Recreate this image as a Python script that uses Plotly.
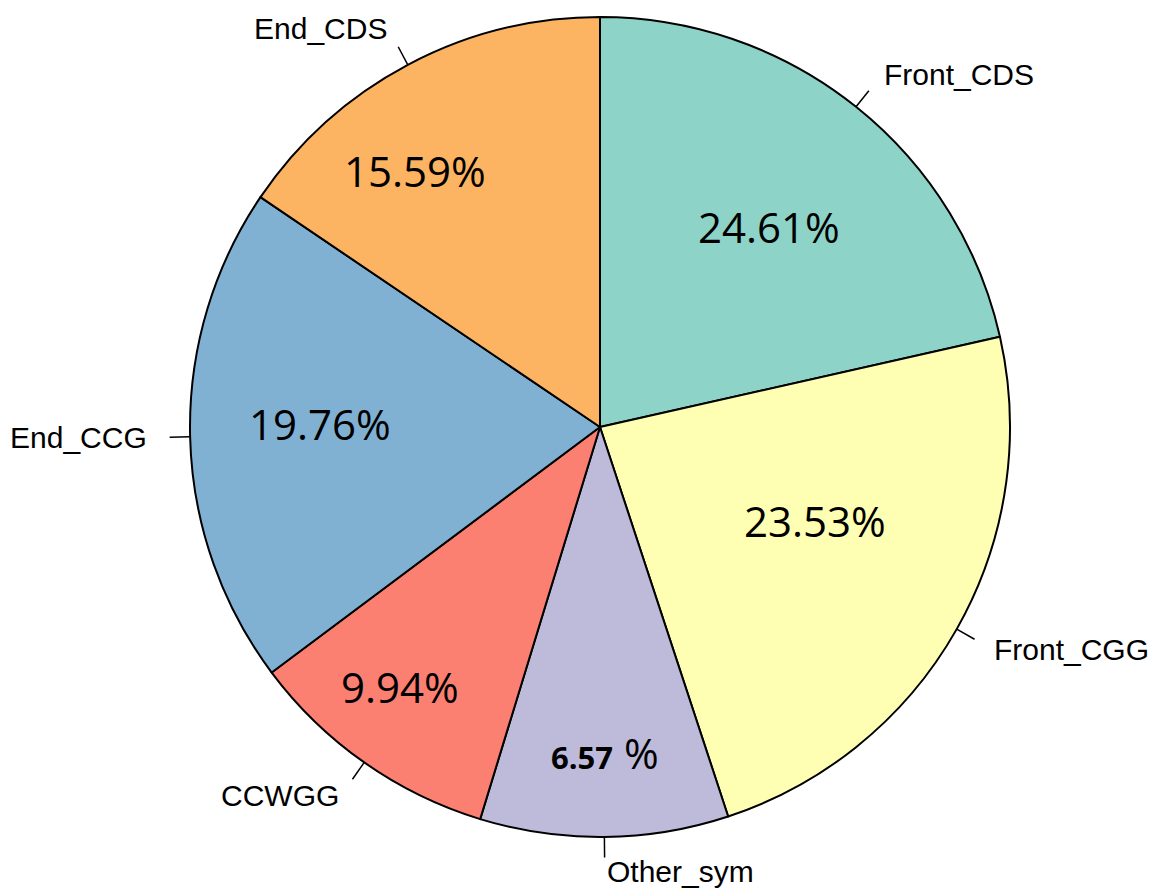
import math
import plotly.graph_objects as go

# ---- data ----
categories = ["Front_CDS", "Front_CGG", "Other_sym", "CCWGG", "End_CCG", "End_CDS"]
slice_values = [21.47, 23.47, 9.78, 10.06, 19.69, 15.53]   # drawn slice sizes
pct_labels = ["24.61%", "23.53%", "6.57 %", "9.94%", "19.76%", "15.59%"]
colors = ["#8DD3C7", "#FFFFB3", "#BEBADA", "#FB8072", "#80B1D3", "#FDB462"]

# ---- layout / placement (style) ----
W, H = 1151, 890
ML, MT = 190, 17
PW = PH = 820
MR = W - ML - PW
MB = H - MT - PH
R = PW / 2.0
pct_rfrac = [0.640, 0.571, 0.793, 0.80, 0.683, 0.772]
pct_dang = [1.4, -6.1, -0.3, 2.5, 2.0, -7.8]
label_yshift = [0, 0, 6, 0, 0, 0]

fig = go.Figure(go.Pie(
    labels=categories, values=slice_values, sort=False, direction="clockwise",
    rotation=0, textinfo="none", hoverinfo="label+value",
    marker=dict(colors=colors, line=dict(color="black", width=2)),
    domain=dict(x=[0, 1], y=[0, 1]), showlegend=False,
))

def to_paper(r_px, ang_deg):
    a = math.radians(ang_deg)
    dx = r_px * math.sin(a)
    dy = r_px * math.cos(a)
    return 0.5 + dx / PW, 0.5 + dy / PH

total = sum(slice_values)
cum = 0.0
annotations = []
shapes = []
for i, (cat, v) in enumerate(zip(categories, slice_values)):
    start = cum / total * 360
    cum += v
    end = cum / total * 360
    mid = (start + end) / 2
    # tick line
    x0, y0 = to_paper(R * 1.0, mid)
    x1, y1 = to_paper(R * 1.05, mid)
    shapes.append(dict(type="line", xref="paper", yref="paper", x0=x0, y0=y0, x1=x1, y1=y1,
                       line=dict(color="black", width=1.5)))
    # outside label
    lx, ly = to_paper(R * 1.1, mid)
    annotations.append(dict(xref="paper", yref="paper", x=lx, y=ly, text=cat, showarrow=False,
                            xanchor="left" if math.sin(math.radians(mid)) >= 0 else "right",
                            yanchor="middle", yshift=label_yshift[i],
                            font=dict(family="Liberation Sans, Arial", size=30, color="black")))
    # percentage label
    px, py = to_paper(R * pct_rfrac[i], mid + pct_dang[i])
    txt = pct_labels[i]
    if cat == "Other_sym":
        num, pc = txt.split(" ")
        txt = "<b><span style='font-size:31px'>%s</span></b> %s" % (num, pc)
    annotations.append(dict(xref="paper", yref="paper", x=px, y=py, text=txt, showarrow=False,
                            xanchor="center", yanchor="middle",
                            font=dict(family="Open Sans", size=42, color="black")))

fig.update_layout(
    width=W, height=H, margin=dict(l=ML, r=MR, t=MT, b=MB),
    paper_bgcolor="white", plot_bgcolor="white",
    annotations=annotations, shapes=shapes,
)
fig.write_html("out.html", config={"displayModeBar": False},
               post_script="document.body.style.margin='0';document.body.style.overflow='hidden';")
